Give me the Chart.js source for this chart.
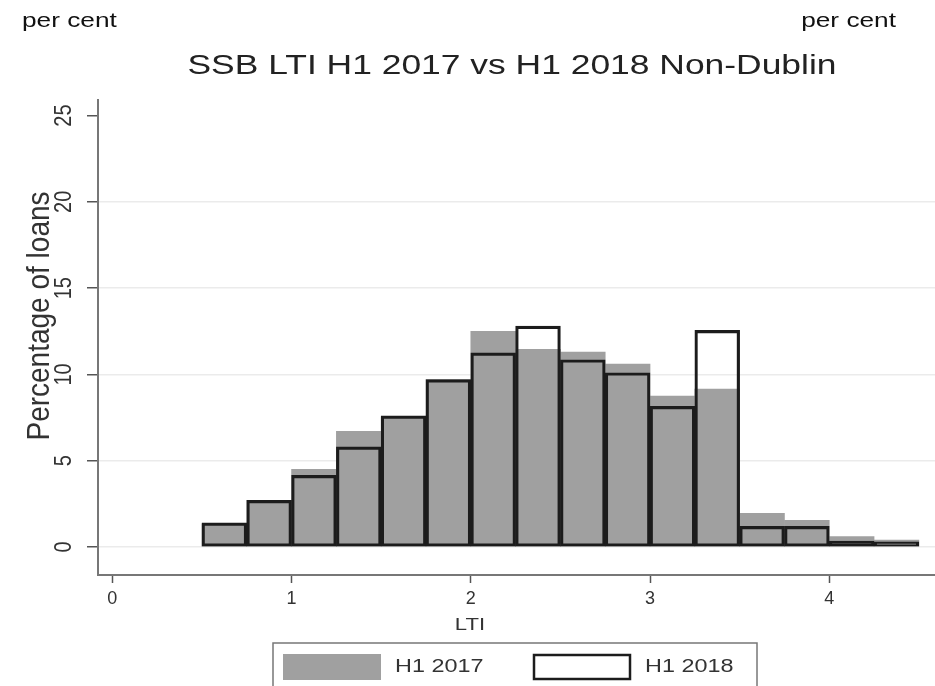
<html>
  <head>
    <script src="https://cdn.jsdelivr.net/npm/chart.js"></script>
    <style>
      body { margin: 0; background: #fff; }
    </style>
  </head>
  <body>
    <canvas id="lti_chart" width="935" height="686"></canvas>
    <script>
      // Bin centres (bins of width 0.25, from 0.5 to 4.5)
      const lti_bins = [0.625, 0.875, 1.125, 1.375, 1.625, 1.875, 2.125, 2.375,
        2.625, 2.875, 3.125, 3.375, 3.625, 3.875, 4.125, 4.375];
      // Percentage of loans in each bin
      const h1_2017 = [1.35, 2.7, 4.5, 6.7, 7.55, 9.7, 12.5, 11.45,
        11.3, 10.6, 8.75, 9.15, 1.95, 1.55, 0.6, 0.4];
      const h1_2018 = [1.4, 2.7, 4.15, 5.8, 7.6, 9.7, 11.25, 12.8,
        10.85, 10.1, 8.15, 12.55, 1.2, 1.2, 0.35, 0.3];
      const x_ticks = [0, 1, 2, 3, 4];
      const y_ticks = [0, 5, 10, 15, 20, 25];
      const series_names = ["H1 2017", "H1 2018"];

      const FONT = "'Liberation Sans', Arial, sans-serif";
      const SX = 1.3; // the picture is a little stretched sideways

      function text(ctx, str, x, y, size, color, align, rot, sx) {
        ctx.save();
        ctx.translate(x, y);
        ctx.scale(sx || SX, 1);
        if (rot) ctx.rotate(rot);
        ctx.font = size + "px " + FONT;
        ctx.fillStyle = color;
        ctx.textAlign = align || "center";
        ctx.textBaseline = "middle";
        ctx.fillText(str, 0, 0);
        ctx.restore();
      }

      // Texts and legend around the plot
      const decorations = {
        id: "decorations",
        afterDraw(chart) {
          const ctx = chart.ctx;
          const ys = chart.scales.y;
          // per cent labels
          text(ctx, "per cent", 22, 21, 21, "#111", "left", 0, 1.25);
          text(ctx, "per cent", 896, 21, 21, "#111", "right", 0, 1.25);
          // title, fitted to its width in the picture
          ctx.font = "27px " + FONT;
          const title = "SSB LTI H1 2017 vs H1 2018 Non-Dublin";
          const tw = ctx.measureText(title).width;
          text(ctx, title, 512, 67, 27, "#222", "center", 0, 649 / tw);
          // y tick labels, rotated
          y_ticks.forEach((v) => {
            ctx.save();
            ctx.translate(65, ys.getPixelForValue(v));
            ctx.scale(1.15, 1);
            ctx.rotate(-Math.PI / 2);
            ctx.font = "20px " + FONT;
            ctx.fillStyle = "#333";
            ctx.textAlign = "center";
            ctx.textBaseline = "middle";
            ctx.fillText(String(v), 0, 0);
            ctx.restore();
          });
          // y axis title
          ctx.save();
          ctx.translate(41, 316);
          ctx.scale(1.1, 1);
          ctx.rotate(-Math.PI / 2);
          ctx.font = "28px " + FONT;
          ctx.fillStyle = "#333";
          ctx.textAlign = "center";
          ctx.textBaseline = "middle";
          ctx.fillText("Percentage of loans", 0, 0);
          ctx.restore();
          // x axis title
          text(ctx, "LTI", 470, 625, 17, "#333", "center");
          // legend box
          ctx.save();
          ctx.fillStyle = "#fff";
          ctx.strokeStyle = "#777";
          ctx.lineWidth = 1.5;
          ctx.fillRect(273, 643, 484, 60);
          ctx.strokeRect(273, 643, 484, 60);
          ctx.fillStyle = "#a0a0a0";
          ctx.fillRect(283, 654, 98, 26);
          ctx.fillStyle = "#fff";
          ctx.strokeStyle = "#1c1c1c";
          ctx.lineWidth = 2.5;
          ctx.fillRect(534, 655, 96, 24);
          ctx.strokeRect(534, 655, 96, 24);
          ctx.restore();
          text(ctx, series_names[0], 395, 667, 18, "#333", "left");
          text(ctx, series_names[1], 645, 667, 18, "#333", "left");
        },
      };

      const lti_chart = new Chart("lti_chart", {
        type: "bar",
        data: {
          datasets: [
            {
              label: series_names[1],
              data: lti_bins.map((x, i) => ({ x: x, y: h1_2018[i] })),
              backgroundColor: "rgba(0,0,0,0)",
              borderColor: "#1c1c1c",
              borderWidth: 2.5,
              borderSkipped: false,
              order: 0,
            },
            {
              label: series_names[0],
              data: lti_bins.map((x, i) => ({ x: x, y: h1_2017[i] })),
              backgroundColor: "#a0a0a0",
              borderWidth: 0,
              order: 1,
            },
          ],
        },
        plugins: [decorations],
        options: {
          responsive: false,
          animation: false,
          grouped: false,
          barPercentage: 1,
          categoryPercentage: 1,
          layout: { padding: { top: 100, left: 0, right: 0, bottom: 0 } },
          plugins: {
            legend: { display: false },
            title: { display: false },
            tooltip: { enabled: false },
          },
          scales: {
            x: {
              type: "linear",
              offset: false,
              min: -0.08,
              max: 4.59,
              afterBuildTicks: (s) => { s.ticks = x_ticks.map((v) => ({ value: v })); },
              afterFit: (s) => { s.height = 111; },
              grid: {
                offset: false,
                drawOnChartArea: false,
                drawTicks: true,
                tickLength: 8,
                tickColor: "#555",
                tickWidth: 1.5,
              },
              border: { display: true, color: "#777", width: 2 },
              ticks: {
                padding: 5,
                color: "#333",
                font: { family: FONT, size: 18 },
                maxRotation: 0,
              },
            },
            y: {
              min: -1.62,
              max: 25.9,
              afterBuildTicks: (s) => { s.ticks = y_ticks.map((v) => ({ value: v })); },
              afterFit: (s) => { s.width = 98; },
              grid: {
                color: (c) => (c.tick && c.tick.value === 25 ? "rgba(0,0,0,0)" : "#ebebeb"),
                lineWidth: 1.5,
                drawTicks: true,
                tickLength: 11,
                tickColor: "#555",
                tickWidth: 1.5,
              },
              border: { display: true, color: "#777", width: 2 },
              ticks: { display: false },
            },
          },
        },
      });
    </script>
  </body>
</html>
